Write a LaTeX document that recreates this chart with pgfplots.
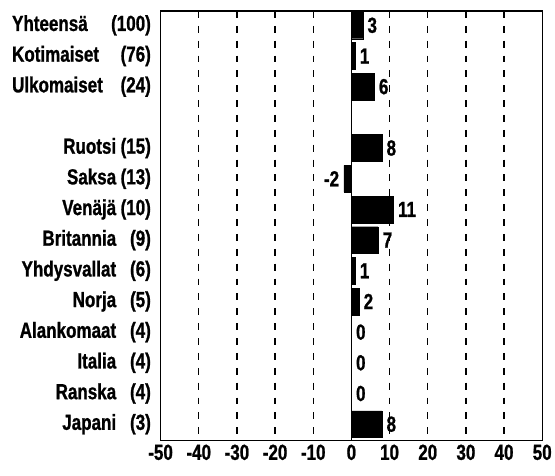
\documentclass[border=0pt]{standalone}
\usepackage{pgfplots}
\pgfplotsset{compat=1.18}
\usepackage{fontspec}
\setmainfont{Liberation Sans}[FakeStretch=0.78, BoldFeatures={FakeBold=1}]

% name left-aligned / right-aligned, count right-aligned
\newcommand{\nl}[2]{\makebox[105pt][l]{#1}\makebox[35pt][r]{(#2)}}
\newcommand{\nr}[2]{\makebox[105pt][r]{#1}\makebox[35pt][r]{(#2)}}

\begin{document}
\begin{tikzpicture}
\begin{axis}[
    name=ax,
    scale only axis,
    width=385pt, height=433pt,
    xmin=-50, xmax=50,
    ymin=-0.47, ymax=13.52,
    y dir=reverse,
    xbar, bar width=27pt, bar shift=0pt,
    xtick={-50,-40,...,50},
    xticklabels={-50,-40,-30,-20,-10,0,10,20,30,40,50},
    ytick={0,1,2,4,5,6,7,8,9,10,11,12,13},
    yticklabels={\nl{Yhteensä}{100},\nl{Kotimaiset}{76},\nl{Ulkomaiset}{24},
      \nr{Ruotsi}{15},\nr{Saksa}{13},\nr{Venäjä}{10},\nr{Britannia}{9},
      \nr{Yhdysvallat}{6},\nr{Norja}{5},\nr{Alankomaat}{4},\nr{Italia}{4},
      \nr{Ranska}{4},\nr{Japani}{3}},
    tick style={draw=none},
    font=\fontsize{22}{25}\selectfont\bfseries,
    yticklabel style={xshift=-2pt},
    xticklabel style={yshift=-1pt},
    axis line style={line width=1.2pt},
    xmajorgrids,
    major grid style={black, line width=1.3pt, dash pattern=on 7pt off 8pt},
    extra x ticks={0}, extra x tick labels={},
    extra x tick style={major grid style={solid, black, line width=1.3pt}},
    /pgf/number format/assume math mode=true,
    nodes near coords,
    nodes near coords align={horizontal},
    every node near coord/.append style={font=\fontsize{22}{25}\selectfont\bfseries, inner sep=4.5pt, black},
]
\addplot[fill=black, draw=black] coordinates {
    (3,0) (1,1) (6,2)
    (8,4) (-2,5) (11,6) (7,7) (1,8) (2,9)
    (0,10) (0,11) (0,12) (8,13)
};
\end{axis}
\path (ax.south west) ++(-162pt,-36pt) rectangle ([xshift=8pt,yshift=11pt]ax.north east);
\end{tikzpicture}
\end{document}
